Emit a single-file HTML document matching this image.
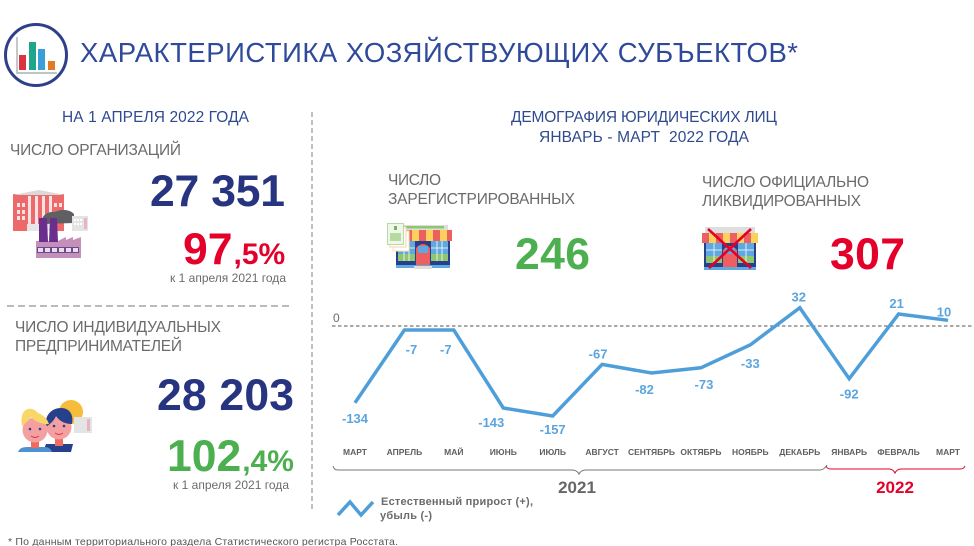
<!DOCTYPE html>
<html lang="ru">
<head>
<meta charset="utf-8">
<title>Характеристика хозяйствующих субъектов</title>
<style>
html,body{margin:0;padding:0;background:#fff;width:974px;height:546px;overflow:hidden}
svg{display:block;position:absolute;left:0;top:0}
text{font-family:"Liberation Sans","Noto Sans CJK SC",sans-serif}
.h{fill:#2f4a8e;font-size:15.5px}
.g{fill:#6b6b6b;font-size:15.5px}
.big{font-weight:bold;font-size:44.5px}
.navy{fill:#27347f}.red{fill:#e4002b}.green{fill:#4caf50}
.sm{fill:#6b6b6b;font-size:12px}
</style>
</head>
<body>
<svg id="page" width="974" height="546" viewBox="0 0 974 546" xmlns="http://www.w3.org/2000/svg">
  <!-- header -->
  <g>
    <circle cx="36" cy="55" r="30.5" fill="none" stroke="#2f3f8a" stroke-width="3"/>
    <rect x="19" y="55" width="7" height="15" fill="#d9343f"/>
    <rect x="29" y="42" width="7" height="28" fill="#1fa58c"/>
    <rect x="38" y="49" width="7" height="21" fill="#3a9fd8"/>
    <rect x="48" y="61" width="7" height="9" fill="#e07b24"/>
    <path d="M17 37V73H57" fill="none" stroke="#a9b2b2" stroke-width="1.4"/>
  </g>
  <text x="80" y="62" font-size="27.5" fill="#2f4a9a" textLength="718" lengthAdjust="spacing">ХАРАКТЕРИСТИКА ХОЗЯЙСТВУЮЩИХ СУБЪЕКТОВ*</text>

  <!-- dividers -->
  <line x1="312" y1="112" x2="312" y2="511" stroke="#b0b0b0" stroke-width="1.6" stroke-dasharray="5 3"/>
  <line x1="7" y1="306" x2="289" y2="306" stroke="#777" stroke-width="1" stroke-dasharray="7 4"/>

  <!-- left column -->
  <text class="h" x="62" y="122" textLength="187" lengthAdjust="spacing">НА 1 АПРЕЛЯ 2022 ГОДА</text>
  <text class="g" x="10" y="155" textLength="171" lengthAdjust="spacing">ЧИСЛО ОРГАНИЗАЦИЙ</text>

  <g>
    <rect x="13" y="194" width="51" height="37" fill="#ee6a6a"/>
    <path d="M13 195L39 190L65 195Z" fill="#d9d9d9"/>
    <g fill="#f7e3e3">
      <rect x="17" y="203" width="3" height="4"/><rect x="22" y="203" width="3" height="4"/>
      <rect x="17" y="210" width="3" height="4"/><rect x="22" y="210" width="3" height="4"/>
      <rect x="17" y="216" width="3" height="4"/><rect x="22" y="216" width="3" height="4"/>
      <rect x="54" y="203" width="3" height="4"/><rect x="59" y="203" width="3" height="4"/>
      <rect x="28" y="196" width="3" height="28"/><rect x="35" y="196" width="3" height="28"/>
      <rect x="42" y="196" width="3" height="28"/><rect x="49" y="196" width="3" height="28"/>
    </g>
    <rect x="27" y="224" width="26" height="7" fill="#e6e6e6"/>
    <path d="M42 224C40 216 48 211 55 212C60 209 70 209 74 214L74 223L42 224Z" fill="#5f6063"/>
    <rect x="72" y="216" width="16" height="15" fill="#e4e4e4"/>
    <rect x="84" y="218" width="3" height="11" fill="#e8b4bf"/>
    <g fill="#fff"><rect x="74" y="219" width="2" height="2"/><rect x="77" y="219" width="2" height="2"/><rect x="80" y="219" width="2" height="2"/><rect x="74" y="223" width="2" height="2"/><rect x="77" y="223" width="2" height="2"/><rect x="80" y="223" width="2" height="2"/></g>
    <path d="M36 241H58L66 237V240L73 237V240L81 237V258H36Z" fill="#c48fb8"/>
    <path d="M39 218H47L48 242H39Z" fill="#6b2e8f"/>
    <path d="M50 218H57L58 242H49Z" fill="#6b2e8f"/>
    <rect x="37" y="247" width="42" height="6" fill="#6b4a8f"/>
    <g fill="#e9ddea"><rect x="38" y="248" width="5" height="4"/><rect x="45" y="248" width="5" height="4"/><rect x="52" y="248" width="5" height="4"/><rect x="59" y="248" width="5" height="4"/><rect x="66" y="248" width="5" height="4"/><rect x="73" y="248" width="5" height="4"/></g>
  </g>

  <text class="big navy" x="150" y="206" textLength="135" lengthAdjust="spacing">27 351</text>
  <text class="big red" x="183" y="264" font-weight="bold">97<tspan font-size="30" dx="1">,5%</tspan></text>
  <text class="sm" x="170" y="282" textLength="116" lengthAdjust="spacing">к 1 апреля 2021 года</text>

  <text class="g" x="15" y="332" textLength="206" lengthAdjust="spacing">ЧИСЛО ИНДИВИДУАЛЬНЫХ</text>
  <text class="g" x="15" y="351" textLength="167" lengthAdjust="spacing">ПРЕДПРИНИМАТЕЛЕЙ</text>

  <g>
    <circle cx="71" cy="412" r="12" fill="#f5bd3a"/>
    <rect x="74" y="417" width="18" height="16" fill="#e4e4e4"/>
    <rect x="87" y="419" width="3" height="12" fill="#e8b4bf"/>
    <path d="M43 452L46 444H73L71 452Z" fill="#27408b"/>
    <rect x="55" y="437" width="8" height="9" fill="#ef6a5f"/>
    <circle cx="59" cy="427" r="12.5" fill="#f4a0a0"/>
    <path d="M46 427C44 414 53 408 61 408C69 408 74 414 72 424C66 424 60 422 56 416C54 421 50 424 46 427Z" fill="#27408b"/>
    <path d="M18 452C20 447 24 447 30 447H44C49 447 51 449 52 452Z" fill="#4f90d0"/>
    <rect x="31" y="440" width="8" height="8" fill="#ef6a5f"/>
    <circle cx="35" cy="430" r="12.5" fill="#f4a0a0"/>
    <path d="M22 426C21 420 21 411 28 409C33 408 36 411 38 413C43 415 47 418 49 424C42 425 33 420 31 417C28 421 25 424 22 426Z" fill="#f8d668"/>
    <circle cx="30" cy="429" r="1.3" fill="#27408b"/><circle cx="40" cy="429" r="1.3" fill="#27408b"/>
    <circle cx="54" cy="426" r="1.3" fill="#27408b"/><circle cx="64" cy="426" r="1.3" fill="#27408b"/>
    <path d="M31 436Q35 439 39 436" fill="none" stroke="#e0304a" stroke-width="0.9"/>
    <path d="M55 433Q59 436 63 433" fill="none" stroke="#e0304a" stroke-width="0.9"/>
  </g>

  <text class="big navy" x="157" y="410" textLength="137" lengthAdjust="spacing">28 203</text>
  <text class="big green" x="167" y="471" font-weight="bold">102<tspan font-size="30" dx="1">,4%</tspan></text>
  <text class="sm" x="173" y="489" textLength="116" lengthAdjust="spacing">к 1 апреля 2021 года</text>

  <text x="8" y="545" font-size="10.5" fill="#555" textLength="390" lengthAdjust="spacing">* По данным территориального раздела Статистического регистра Росстата.</text>

  <!-- right column -->
  <text class="h" x="511" y="122" textLength="266" lengthAdjust="spacing">ДЕМОГРАФИЯ ЮРИДИЧЕСКИХ ЛИЦ</text>
  <text class="h" x="539" y="142" textLength="210" lengthAdjust="spacing" xml:space="preserve">ЯНВАРЬ - МАРТ  2022 ГОДА</text>

  <text class="g" x="388" y="185" textLength="53" lengthAdjust="spacing">ЧИСЛО</text>
  <text class="g" x="388" y="204" textLength="187" lengthAdjust="spacing">ЗАРЕГИСТРИРОВАННЫХ</text>
  <text class="g" x="702" y="187" textLength="167" lengthAdjust="spacing">ЧИСЛО ОФИЦИАЛЬНО</text>
  <text class="g" x="702" y="206" textLength="159" lengthAdjust="spacing">ЛИКВИДИРОВАННЫХ</text>

  <g>
    <rect x="396" y="225" width="52" height="10" fill="#dedede"/>
    <rect x="404" y="226" width="40" height="2.5" fill="#8fc66f"/>
    <rect x="396" y="234" width="54" height="33" fill="#27408b"/>
    <rect x="398" y="241" width="17" height="20" fill="#5fa8e0"/>
    <rect x="431" y="241" width="17" height="20" fill="#5fa8e0"/>
    <rect x="398" y="254" width="17" height="7" fill="#8fc66f"/>
    <rect x="431" y="254" width="17" height="7" fill="#8fc66f"/>
    <path d="M404 241V261M409 241V261M398 248H415M437 241V261M442 241V261M431 248H448" stroke="#fff" stroke-width="0.8"/>
    <path d="M416 266V248Q423 240 430 248V266Z" fill="#ee5f5f"/>
    <rect x="418" y="246" width="10" height="7" fill="#5fa8e0"/>
    <rect x="396" y="265" width="54" height="3" fill="#5fa8e0"/>
    <rect x="414" y="266" width="18" height="3" fill="#dedede"/>
    <g>
      <rect x="405" y="230" width="7" height="11" fill="#ee5f5f"/><rect x="412" y="230" width="7" height="11" fill="#fbd15b"/>
      <rect x="419" y="230" width="7" height="11" fill="#ee5f5f"/><rect x="426" y="230" width="7" height="11" fill="#fbd15b"/>
      <rect x="433" y="230" width="7" height="11" fill="#ee5f5f"/><rect x="440" y="230" width="7" height="11" fill="#fbd15b"/>
      <rect x="447" y="230" width="5" height="11" fill="#ee5f5f"/>
    </g>
    <rect x="393" y="231" width="16" height="20" fill="#fff" stroke="#fbe3b0"/>
    <rect x="390" y="227" width="16" height="20" fill="#fff" stroke="#f5d6a6"/>
    <rect x="387.5" y="223.5" width="16" height="21" fill="#eef7e8" stroke="#b7d9a6"/>
    <rect x="390" y="233" width="11" height="8" fill="#b6dba2"/>
    <rect x="394" y="226" width="3" height="4" fill="#6fb85a"/>
  </g>
  <text class="big green" x="515" y="269" textLength="75" lengthAdjust="spacing">246</text>

  <g>
    <rect x="705" y="227" width="50" height="10" fill="#dedede"/>
    <rect x="704" y="236" width="52" height="33" fill="#27408b"/>
    <rect x="706" y="243" width="16" height="20" fill="#5fa8e0"/>
    <rect x="738" y="243" width="16" height="20" fill="#5fa8e0"/>
    <rect x="706" y="256" width="16" height="7" fill="#8fc66f"/>
    <rect x="738" y="256" width="16" height="7" fill="#8fc66f"/>
    <path d="M714 243V263M706 250H722M746 243V263M738 250H754" stroke="#fff" stroke-width="0.8"/>
    <path d="M723 267V250Q730 242 737 250V267Z" fill="#ee5f5f"/>
    <rect x="725" y="248" width="10" height="6" fill="#5fa8e0"/>
    <rect x="704" y="267" width="52" height="3" fill="#5fa8e0"/>
    <g>
      <rect x="702" y="233" width="7" height="10" fill="#ee5f5f"/><rect x="709" y="233" width="7" height="10" fill="#fbd15b"/>
      <rect x="716" y="233" width="7" height="10" fill="#ee5f5f"/><rect x="723" y="233" width="7" height="10" fill="#fbd15b"/>
      <rect x="730" y="233" width="7" height="10" fill="#ee5f5f"/><rect x="737" y="233" width="7" height="10" fill="#fbd15b"/>
      <rect x="744" y="233" width="7" height="10" fill="#ee5f5f"/><rect x="751" y="233" width="7" height="10" fill="#fbd15b"/>
    </g>
    <path d="M708 229L751 268M751 229L709 268" stroke="#e4002b" stroke-width="2.6"/>
  </g>
  <text class="big red" x="830" y="269" textLength="75" lengthAdjust="spacing">307</text>

  <!-- chart -->
  <g id="chart"></g>

  <path d="M333 466Q334 470 338 470H572Q577 470 579 474Q581 470 586 470H820Q824 470 827 465" fill="none" stroke="#777" stroke-width="1"/>
  <path d="M826 466Q827 469 831 469H889Q893 469 895 473Q897 469 901 469H960Q964 469 965 466" fill="none" stroke="#e4002b" stroke-width="1"/>
  <text x="577" y="493" text-anchor="middle" font-size="17" font-weight="bold" fill="#666">2021</text>
  <text x="895" y="493" text-anchor="middle" font-size="17" font-weight="bold" fill="#e4002b">2022</text>

  <polyline points="338,515 350,502 361,515 373,502" fill="none" stroke="#4e9fd9" stroke-width="3.5"/>
  <text x="381" y="505" font-size="11" font-weight="bold" fill="#6b6b6b" textLength="152" lengthAdjust="spacing">Естественный прирост (+),</text>
  <text x="380" y="519" font-size="11" font-weight="bold" fill="#6b6b6b" textLength="52" lengthAdjust="spacing">убыль (-)</text>
</svg>
<script>
const months = ['МАРТ','АПРЕЛЬ','МАЙ','ИЮНЬ','ИЮЛЬ','АВГУСТ','СЕНТЯБРЬ','ОКТЯБРЬ','НОЯБРЬ','ДЕКАБРЬ','ЯНВАРЬ','ФЕВРАЛЬ','МАРТ'];
const growth = [-134,-7,-7,-143,-157,-67,-82,-73,-33,32,-92,21,10];
const zeroTick = [0];

const NS = 'http://www.w3.org/2000/svg';
const chart = document.getElementById('chart');
function xAt(i){ return 355 + i * (948 - 355) / 12; }
function yAt(v){ return 326 - v * 90 / 157; }
function labelShift(i){
  const dx = {1:7, 2:-8, 3:-12, 5:-4, 6:-7, 7:3, 9:-1, 11:-2, 12:-4};
  const dy = {0:20, 1:24, 2:24, 3:19, 4:18, 5:-6, 6:21, 7:21, 8:23, 9:-6, 10:20, 11:-6, 12:-4};
  return {x: dx[i] || 0, y: dy[i] || 0};
}
function add(tag, attrs, txt){
  const el = document.createElementNS(NS, tag);
  for (const k in attrs) el.setAttribute(k, attrs[k]);
  if (txt !== undefined) el.textContent = txt;
  chart.appendChild(el);
  return el;
}

zeroTick.forEach(function(t){
  const zeroLine = add('line', {x1:332, x2:974, y1:yAt(t), y2:yAt(t), stroke:'#555', 'stroke-width':1, 'stroke-dasharray':'3.5 2.5'});
  
  
  const zeroLabel = add('text', {x:333, y:yAt(t) - 4, 'font-size':12, fill:'#6b6b6b'}, String(t));
  
  
});

const line = add('polyline', {
  points: growth.map(function(v, i){ return xAt(i).toFixed(1) + ',' + yAt(v).toFixed(1); }).join(' '),
  fill:'none', stroke:'#4e9fd9', 'stroke-width':3.5, 'stroke-linejoin':'miter'
});



growth.forEach(function(v, i){
  const s = labelShift(i);
  const valueLabel = add('text', {x:xAt(i) + s.x, y:yAt(v) + s.y, 'text-anchor':'middle', 'font-size':13, 'font-weight':'bold', fill:'#5aa5e0'}, String(v));
  
  
});

months.forEach(function(m, i){
  const monthLabel = add('text', {x:xAt(i), y:455, 'text-anchor':'middle', 'font-size':8.5, 'font-weight':'bold', fill:'#5f5f5f'}, m);
  
  
});
</script>
</body>
</html>
